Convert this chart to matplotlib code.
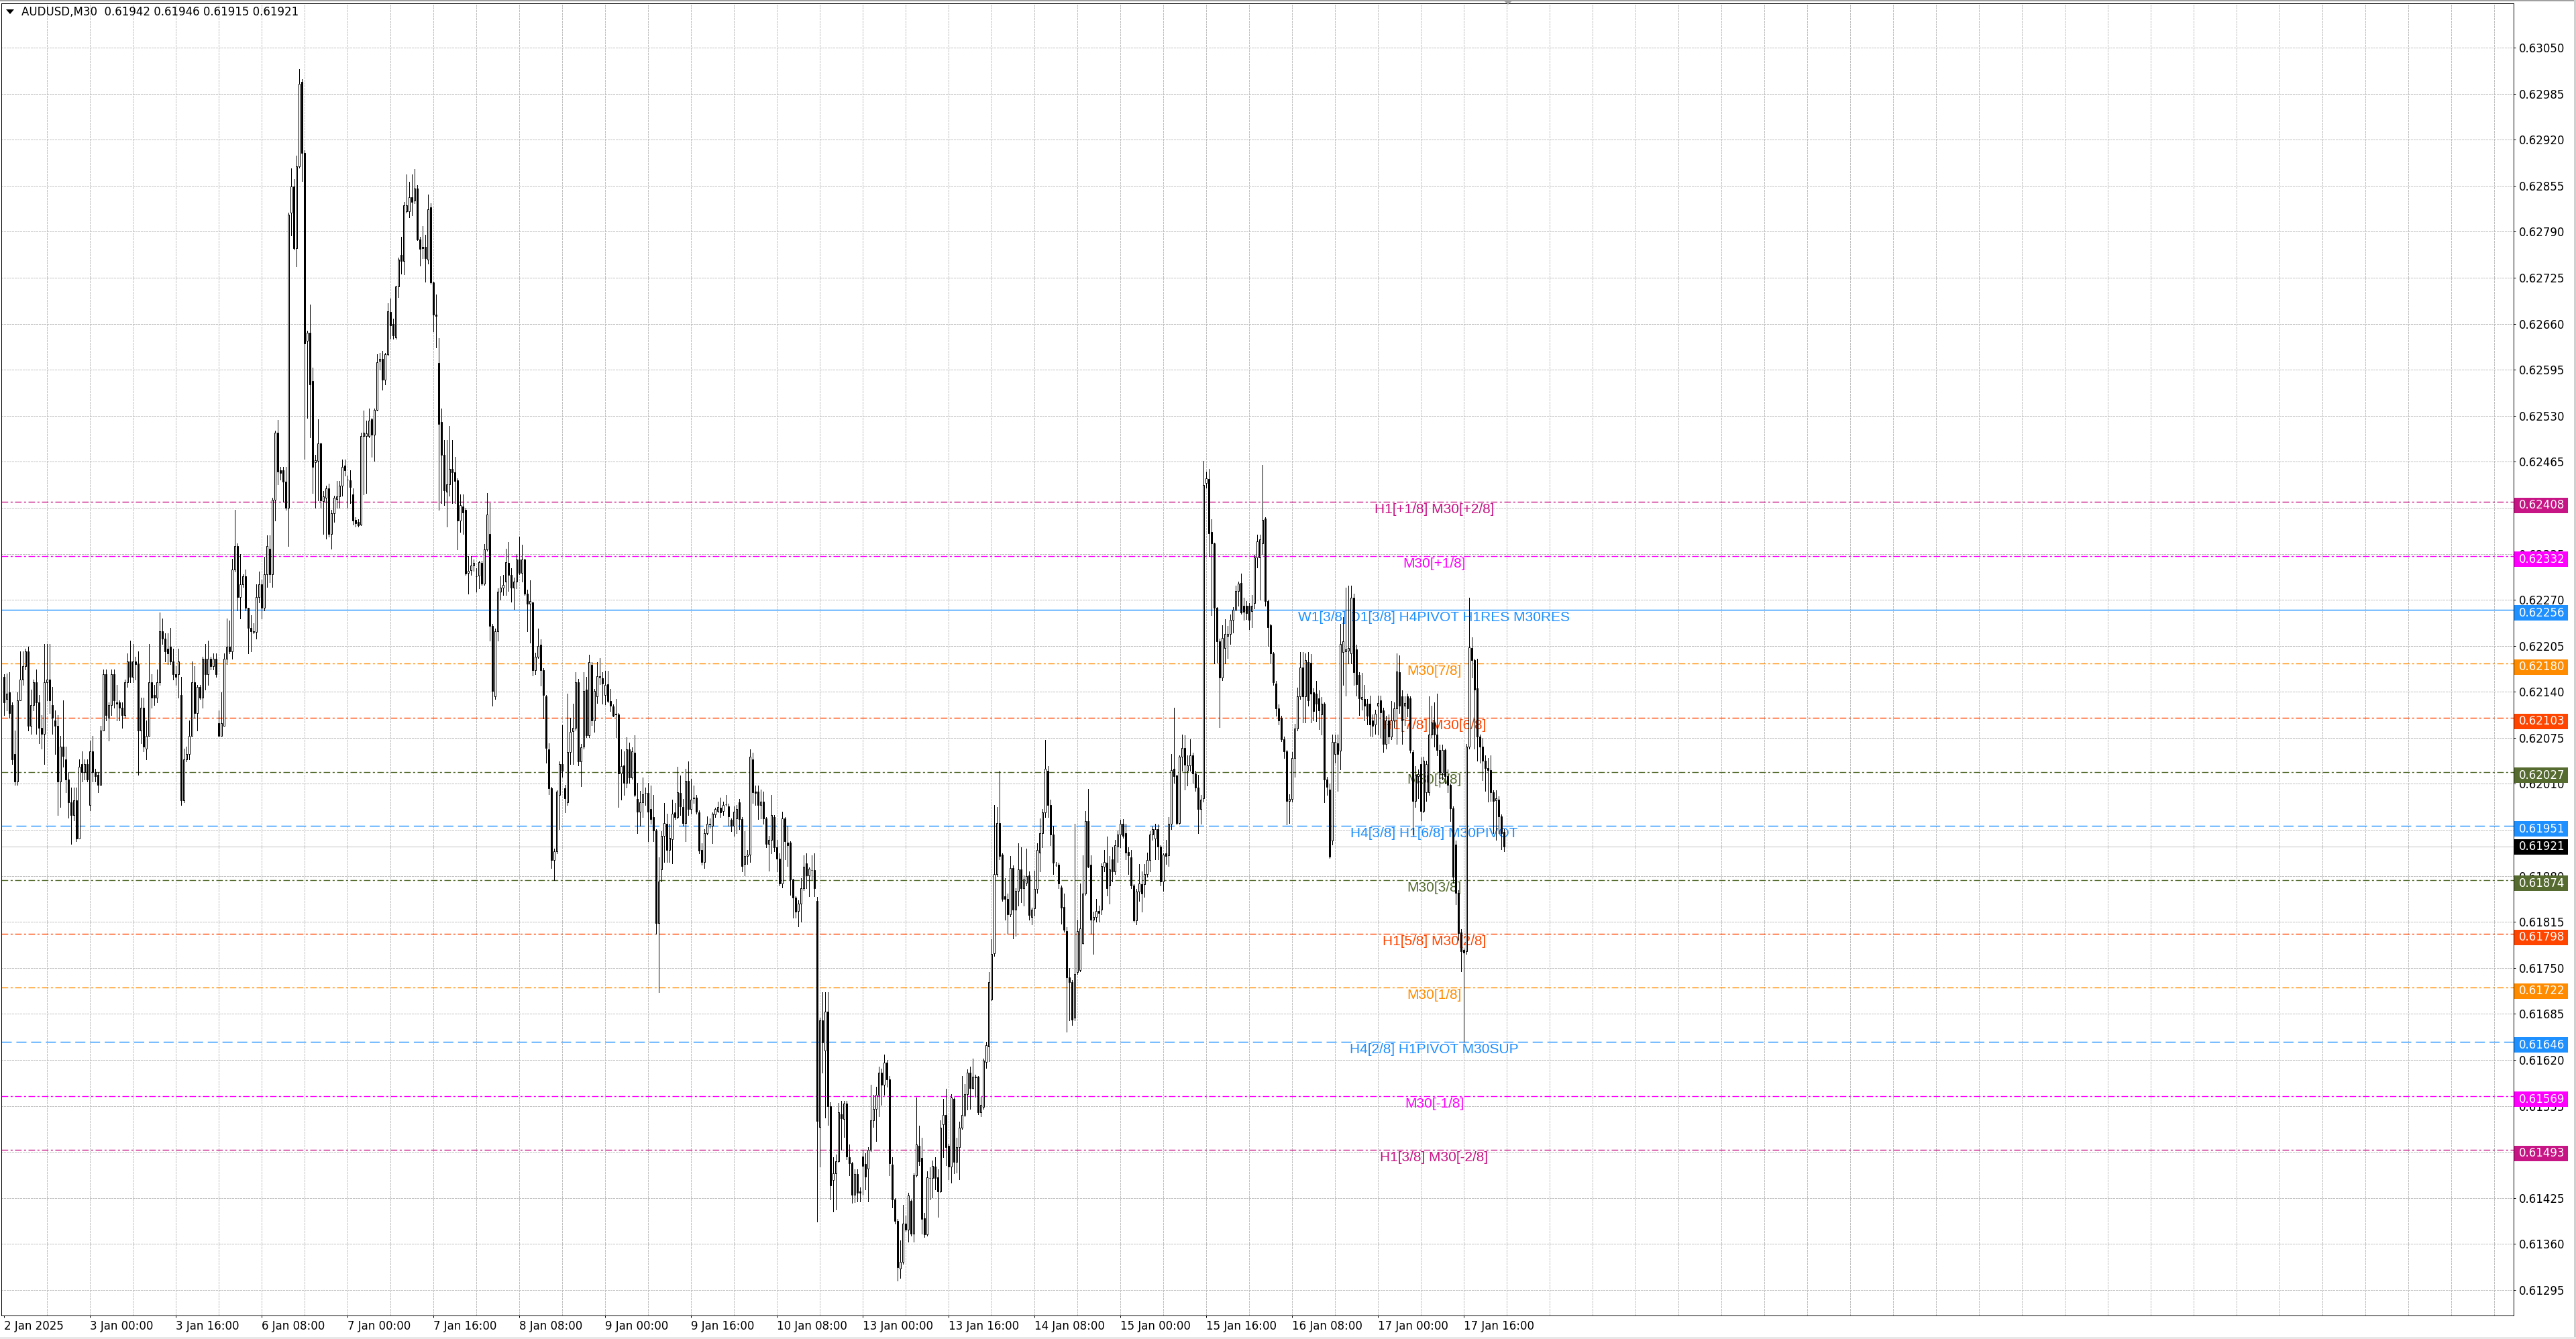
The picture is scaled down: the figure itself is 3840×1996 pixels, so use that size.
import matplotlib
matplotlib.use("Agg")
import matplotlib.pyplot as plt
import matplotlib.transforms as mtransforms
from matplotlib.patches import Rectangle, Polygon
import numpy as np

# ---- data (prices in points, 1 point = 0.00001) ----
title_text = "AUDUSD,M30  0.61942 0.61946 0.61915 0.61921"

opens = [
    62161, 62130, 62139, 62121, 62052, 62013, 62128, 62157, 62176, 62197, 62092, 62121, 62154, 62125, 62089, 62081, 62154, 62157, 62121, 62100,
    62092, 62013, 62063, 62045, 62016, 61984, 61966, 61987, 61933, 62038, 62027, 62038, 61980, 62056, 62027, 62023, 62009, 62085, 62165, 62103,
    62121, 62165, 62125, 62125, 62118, 62107, 62154, 62183, 62161, 62183, 62179, 62085, 62118, 62060, 62078, 62154, 62136, 62132, 62154, 62226,
    62215, 62201, 62204, 62183, 62165, 62165, 62136, 61987, 62045, 62052, 62078, 62154, 62110, 62147, 62132, 62187, 62165, 62187, 62176, 62187,
    62096, 62078, 62092, 62187, 62204, 62197, 62313, 62346, 62274, 62292, 62303, 62259, 62230, 62226, 62225, 62274, 62292, 62259, 62306, 62342,
    62306, 62411, 62506, 62453, 62453, 62437, 62400, 62817, 62854, 62767, 62882, 63002, 62901, 62636, 62647, 62579, 62464, 62466, 62491, 62409,
    62414, 62427, 62363, 62392, 62412, 62416, 62431, 62460, 62440, 62439, 62419, 62383, 62380, 62376, 62501, 62501, 62501, 62525, 62503, 62538,
    62607, 62610, 62581, 62617, 62677, 62660, 62641, 62713, 62757, 62749, 62819, 62819, 62839, 62834, 62851, 62779, 62769, 62769, 62751, 62824,
    62718, 62673, 62605, 62521, 62475, 62423, 62433, 62455, 62450, 62439, 62382, 62402, 62397, 62308, 62312, 62318, 62303, 62304, 62322, 62293,
    62341, 62363, 62233, 62134, 62226, 62281, 62287, 62296, 62322, 62305, 62287, 62296, 62327, 62308, 62327, 62279, 62264, 62266, 62171, 62190,
    62207, 62171, 62134, 62059, 62004, 61902, 61915, 61994, 62038, 62004, 61984, 62055, 62084, 62089, 62154, 62042, 62063, 62143, 62079, 62178,
    62100, 62134, 62160, 62159, 62136, 62151, 62127, 62119, 62109, 62108, 62025, 62036, 62011, 62059, 62019, 62054, 61989, 61971, 61984, 61997,
    61997, 61974, 61963, 61944, 61813, 61889, 61937, 61954, 61917, 61932, 61970, 61963, 61997, 61977, 61955, 62014, 61974, 61990, 61991, 61970,
    61917, 61900, 61940, 61953, 61951, 61967, 61972, 61976, 61972, 61981, 61978, 61959, 61951, 61961, 61984, 61960, 61897, 61908, 61910, 62045,
    61999, 61999, 61980, 61985, 61961, 61925, 61931, 61963, 61920, 61904, 61869, 61961, 61927, 61927, 61875, 61849, 61830, 61841, 61863, 61898,
    61881, 61888, 61888, 61845, 61525, 61676, 61633, 61688, 61555, 61450, 61460, 61477, 61543, 61537, 61558, 61483, 61474, 61430, 61459, 61434,
    61484, 61473, 61467, 61493, 61535, 61551, 61571, 61602, 61585, 61616, 61593, 61472, 61423, 61393, 61325, 61335, 61389, 61380, 61421, 61375,
    61457, 61499, 61482, 61396, 61374, 61453, 61453, 61469, 61454, 61434, 61529, 61542, 61499, 61469, 61565, 61476, 61497, 61524, 61542, 61572,
    61602, 61580, 61596, 61596, 61546, 61554, 61617, 61639, 61705, 61771, 61883, 61955, 61910, 61851, 61847, 61826, 61891, 61832, 61859, 61889,
    61863, 61870, 61881, 61822, 61834, 61862, 61913, 61940, 61970, 62028, 61980, 61938, 61896, 61896, 61864, 61836, 61802, 61737, 61730, 61680,
    61744, 61747, 61785, 61855, 61957, 61896, 61818, 61822, 61830, 61832, 61893, 61899, 61866, 61903, 61886, 61921, 61938, 61954, 61940, 61914,
    61906, 61866, 61817, 61858, 61868, 61868, 61883, 61902, 61938, 61933, 61946, 61921, 61872, 61912, 61909, 61954, 62031, 62022, 61955, 62048,
    62061, 62028, 62036, 62050, 62025, 62005, 61974, 61990, 62435, 62441, 62366, 62350, 62259, 62211, 62160, 62202, 62219, 62222, 62242, 62256,
    62282, 62294, 62262, 62262, 62262, 62254, 62265, 62330, 62330, 62350, 62385, 62268, 62234, 62194, 62152, 62117, 62103, 62073, 62056, 61986,
    61989, 62046, 62088, 62134, 62174, 62134, 62182, 62181, 62139, 62137, 62131, 62108, 62123, 62016, 62002, 61930, 62052, 62067, 62057, 62196,
    62197, 62198, 62194, 62273, 62200, 62164, 62130, 62130, 62123, 62123, 62100, 62094, 62120, 62128, 62114, 62066, 62100, 62077, 62100, 62117,
    62168, 62134, 62120, 62134, 62131, 62055, 61986, 62021, 62038, 61972, 61998, 61998, 62080, 62097, 62080, 62058, 62026, 62058, 62021, 62009,
    61975, 61924, 61856, 61800, 61775, 61774, 62063, 62202, 62185, 62145, 62077, 62063, 62043, 62032, 62029, 61998, 61987, 61988, 61964, 61942,
]

highs = [
    62165, 62166, 62168, 62125, 62085, 62139, 62197, 62197, 62201, 62204, 62143, 62157, 62172, 62136, 62107, 62208, 62208, 62208, 62147, 62114,
    62107, 62078, 62128, 62063, 62027, 62005, 62005, 62005, 62045, 62056, 62045, 62045, 62071, 62078, 62031, 62027, 62092, 62172, 62172, 62125,
    62172, 62172, 62150, 62128, 62125, 62157, 62194, 62212, 62208, 62190, 62197, 62132, 62132, 62100, 62208, 62165, 62150, 62172, 62252, 62244,
    62223, 62223, 62230, 62201, 62176, 62201, 62161, 62060, 62063, 62100, 62183, 62176, 62150, 62150, 62190, 62208, 62212, 62190, 62194, 62194,
    62114, 62139, 62194, 62244, 62241, 62328, 62397, 62350, 62335, 62306, 62313, 62259, 62248, 62237, 62292, 62310, 62299, 62331, 62361, 62361,
    62414, 62509, 62524, 62458, 62458, 62458, 62817, 62879, 62864, 62897, 63020, 63005, 62905, 62650, 62687, 62598, 62475, 62525, 62492, 62424,
    62431, 62434, 62397, 62417, 62438, 62438, 62468, 62468, 62445, 62453, 62427, 62387, 62384, 62506, 62537, 62523, 62540, 62527, 62540, 62617,
    62619, 62622, 62619, 62689, 62696, 62667, 62714, 62753, 62783, 62832, 62871, 62860, 62871, 62878, 62856, 62783, 62798, 62786, 62842, 62830,
    62719, 62701, 62640, 62540, 62496, 62496, 62516, 62496, 62472, 62442, 62419, 62419, 62400, 62332, 62332, 62327, 62315, 62325, 62325, 62349,
    62421, 62407, 62236, 62229, 62286, 62303, 62305, 62342, 62352, 62315, 62301, 62335, 62359, 62348, 62328, 62284, 62298, 62267, 62195, 62229,
    62214, 62173, 62136, 62067, 62006, 61919, 62001, 62042, 62093, 62009, 62137, 62103, 62123, 62168, 62158, 62066, 62168, 62161, 62192, 62182,
    62144, 62182, 62188, 62168, 62170, 62170, 62144, 62122, 62130, 62110, 62059, 62056, 62076, 62068, 62062, 62079, 62011, 62000, 62019, 62005,
    62011, 62008, 61994, 61946, 61906, 61943, 61983, 61968, 61954, 61988, 61983, 62034, 62022, 61989, 62031, 62042, 62017, 62008, 61994, 61973,
    61926, 61946, 61964, 61961, 61970, 61976, 61985, 61991, 61985, 61994, 61982, 61961, 61978, 61980, 61989, 61963, 61943, 61917, 62059, 62054,
    62008, 62008, 62002, 61999, 61963, 61937, 61994, 61966, 61931, 61912, 61971, 61963, 61951, 61929, 61876, 61851, 61846, 61877, 61909, 61912,
    61892, 61909, 61912, 61850, 61680, 61716, 61716, 61716, 61560, 61483, 61486, 61559, 61562, 61562, 61562, 61501, 61476, 61466, 61466, 61440,
    61493, 61488, 61497, 61585, 61571, 61582, 61611, 61608, 61628, 61620, 61597, 61483, 61425, 61395, 61365, 61415, 61400, 61432, 61423, 61460,
    61567, 61527, 61510, 61404, 61463, 61468, 61478, 61483, 61466, 61535, 61565, 61579, 61502, 61572, 61567, 61510, 61533, 61597, 61586, 61607,
    61611, 61622, 61599, 61597, 61568, 61622, 61646, 61744, 61791, 61980, 61977, 62028, 61912, 61877, 61855, 61908, 61895, 61863, 61926, 61920,
    61881, 61919, 61886, 61835, 61887, 61926, 61961, 61974, 62072, 62035, 61988, 61951, 61900, 61899, 61866, 61855, 61808, 61750, 61733, 61954,
    61818, 61869, 61909, 61972, 62003, 61909, 61829, 61847, 61838, 61898, 61917, 61936, 61908, 61920, 61931, 61944, 61959, 61960, 61954, 61920,
    61917, 61868, 61862, 61897, 61886, 61897, 61913, 61943, 61950, 61954, 61953, 61923, 61912, 61931, 61963, 62052, 62118, 62023, 62050, 62080,
    62079, 62050, 62073, 62054, 62028, 62023, 61994, 62466, 62451, 62455, 62384, 62351, 62260, 62215, 62234, 62243, 62233, 62249, 62260, 62290,
    62296, 62307, 62273, 62268, 62265, 62277, 62334, 62362, 62362, 62461, 62387, 62270, 62236, 62196, 62155, 62122, 62106, 62077, 62058, 61995,
    62055, 62095, 62146, 62196, 62196, 62194, 62196, 62193, 62145, 62155, 62142, 62133, 62125, 62020, 62010, 62080, 62080, 62080, 62236, 62245,
    62287, 62290, 62290, 62279, 62207, 62168, 62167, 62150, 62130, 62135, 62108, 62115, 62135, 62135, 62118, 62106, 62108, 62127, 62125, 62194,
    62191, 62142, 62134, 62137, 62134, 62058, 62035, 62030, 62047, 62048, 62043, 62134, 62120, 62125, 62137, 62065, 62065, 62060, 62030, 62010,
    61978, 61930, 61860, 61805, 61777, 62066, 62273, 62217, 62187, 62187, 62080, 62075, 62050, 62046, 62050, 62001, 62001, 61992, 61967, 61946,
]

lows = [
    62107, 62114, 62103, 62038, 62009, 62009, 62128, 62150, 62172, 62085, 62081, 62114, 62081, 62067, 62060, 62038, 62128, 62110, 62081, 62052,
    61966, 61977, 62034, 61998, 61962, 61925, 61958, 61929, 61933, 62013, 62016, 62013, 61973, 62013, 62013, 61998, 62009, 62085, 62100, 62071,
    62107, 62118, 62100, 62100, 62089, 62103, 62147, 62154, 62154, 62157, 62023, 62067, 62056, 62045, 62078, 62118, 62121, 62125, 62150, 62208,
    62183, 62179, 62179, 62157, 62150, 62132, 61980, 61984, 62042, 62045, 62078, 62103, 62085, 62130, 62118, 62143, 62150, 62172, 62172, 62161,
    62078, 62078, 62092, 62179, 62194, 62187, 62310, 62255, 62244, 62288, 62255, 62194, 62197, 62223, 62215, 62266, 62244, 62255, 62288, 62295,
    62288, 62382, 62433, 62440, 62408, 62397, 62346, 62785, 62765, 62741, 62880, 62861, 62469, 62527, 62499, 62421, 62400, 62410, 62400, 62363,
    62356, 62359, 62342, 62380, 62400, 62400, 62417, 62445, 62400, 62407, 62376, 62373, 62373, 62375, 62419, 62421, 62499, 62472, 62466, 62537,
    62595, 62567, 62574, 62615, 62639, 62639, 62639, 62697, 62731, 62730, 62817, 62810, 62813, 62830, 62778, 62742, 62752, 62719, 62745, 62716,
    62649, 62626, 62397, 62407, 62404, 62373, 62417, 62407, 62407, 62341, 62366, 62363, 62305, 62279, 62305, 62311, 62281, 62286, 62291, 62291,
    62339, 62212, 62120, 62130, 62212, 62270, 62277, 62277, 62282, 62267, 62257, 62286, 62306, 62296, 62277, 62226, 62209, 62163, 62165, 62188,
    62149, 62102, 62040, 61995, 61891, 61874, 61912, 61946, 62020, 61970, 61980, 62038, 62038, 62086, 62036, 62007, 62060, 62076, 62076, 62093,
    62083, 62124, 62151, 62123, 62122, 62125, 62113, 62105, 62076, 61977, 61988, 61994, 62005, 62011, 62017, 61992, 61940, 61951, 61963, 61980,
    61929, 61954, 61929, 61798, 61716, 61872, 61900, 61900, 61900, 61898, 61960, 61961, 61966, 61951, 61929, 61966, 61968, 61983, 61968, 61912,
    61896, 61891, 61938, 61948, 61926, 61963, 61970, 61963, 61966, 61979, 61951, 61943, 61937, 61940, 61946, 61886, 61881, 61897, 61900, 61983,
    61980, 61960, 61961, 61954, 61920, 61887, 61912, 61915, 61886, 61866, 61864, 61903, 61894, 61853, 61821, 61821, 61809, 61815, 61860, 61863,
    61851, 61875, 61851, 61392, 61469, 61602, 61539, 61528, 61423, 61406, 61409, 61476, 61493, 61511, 61480, 61457, 61418, 61419, 61420, 61420,
    61430, 61437, 61420, 61491, 61525, 61505, 61540, 61557, 61571, 61582, 61457, 61412, 61389, 61308, 61312, 61332, 61378, 61363, 61372, 61363,
    61455, 61471, 61375, 61370, 61372, 61423, 61426, 61437, 61398, 61433, 61483, 61471, 61451, 61447, 61460, 61461, 61451, 61522, 61540, 61550,
    61551, 61579, 61568, 61543, 61540, 61551, 61609, 61618, 61704, 61767, 61880, 61903, 61845, 61818, 61798, 61823, 61792, 61795, 61838, 61843,
    61838, 61866, 61818, 61811, 61824, 61856, 61886, 61920, 61963, 61963, 61923, 61883, 61894, 61863, 61812, 61801, 61660, 61676, 61669, 61676,
    61741, 61745, 61784, 61853, 61892, 61798, 61770, 61815, 61815, 61826, 61886, 61852, 61841, 61872, 61883, 61900, 61920, 61934, 61903, 61883,
    61863, 61815, 61811, 61845, 61829, 61850, 61879, 61886, 61931, 61903, 61903, 61866, 61859, 61897, 61894, 61946, 62011, 61953, 61954, 62028,
    62002, 62008, 62028, 62011, 62000, 61940, 61954, 61985, 62428, 62332, 62248, 62180, 62181, 62090, 62156, 62180, 62188, 62208, 62224, 62255,
    62262, 62250, 62242, 62243, 62228, 62231, 62258, 62316, 62270, 62335, 62262, 62205, 62180, 62150, 62106, 62094, 62070, 62046, 61953, 61955,
    61985, 62020, 62085, 62130, 62097, 62097, 62120, 62097, 62100, 62099, 62087, 62080, 61984, 61994, 61905, 61924, 62040, 62000, 62030, 62150,
    62135, 62180, 62180, 62150, 62135, 62107, 62115, 62100, 62094, 62078, 62077, 62081, 62080, 62075, 62055, 62060, 62067, 62073, 62090, 62066,
    62110, 62066, 62093, 62105, 62054, 61938, 61977, 61990, 61958, 61970, 61986, 61994, 62075, 62063, 62050, 62006, 62016, 62010, 61998, 61957,
    61870, 61840, 61790, 61745, 61646, 61770, 62060, 62160, 62060, 62043, 62040, 62015, 62000, 61985, 61986, 61940, 61931, 61940, 61918, 61915,
]

closes = [
    62125, 62137, 62110, 62045, 62013, 62128, 62157, 62176, 62197, 62092, 62121, 62154, 62125, 62089, 62081, 62154, 62157, 62128, 62103, 62092,
    62013, 62063, 62049, 62016, 61984, 61966, 61987, 61933, 62034, 62027, 62038, 62016, 62056, 62027, 62021, 62009, 62085, 62165, 62107, 62121,
    62165, 62128, 62123, 62118, 62107, 62154, 62183, 62161, 62183, 62179, 62085, 62118, 62063, 62078, 62154, 62132, 62132, 62154, 62226, 62215,
    62197, 62194, 62183, 62165, 62161, 62183, 61987, 62045, 62052, 62078, 62154, 62110, 62147, 62132, 62187, 62165, 62187, 62176, 62187, 62165,
    62078, 62096, 62187, 62204, 62197, 62313, 62346, 62274, 62292, 62303, 62259, 62230, 62226, 62225, 62274, 62292, 62259, 62306, 62346, 62306,
    62411, 62506, 62451, 62449, 62437, 62400, 62814, 62854, 62767, 62882, 62999, 62901, 62632, 62647, 62574, 62458, 62467, 62491, 62410, 62416,
    62427, 62363, 62392, 62414, 62416, 62431, 62458, 62453, 62440, 62429, 62382, 62378, 62375, 62501, 62506, 62505, 62523, 62503, 62538, 62606,
    62610, 62581, 62617, 62678, 62658, 62643, 62713, 62751, 62749, 62827, 62827, 62839, 62832, 62851, 62779, 62766, 62767, 62752, 62822, 62718,
    62673, 62671, 62518, 62475, 62425, 62433, 62455, 62450, 62438, 62382, 62404, 62393, 62307, 62311, 62318, 62322, 62303, 62323, 62293, 62341,
    62390, 62233, 62141, 62226, 62281, 62287, 62291, 62323, 62305, 62287, 62296, 62327, 62308, 62327, 62279, 62264, 62268, 62171, 62190, 62205,
    62171, 62136, 62061, 62004, 61902, 61915, 61999, 62038, 62028, 61990, 62055, 62083, 62089, 62154, 62042, 62062, 62141, 62079, 62182, 62100,
    62141, 62162, 62162, 62152, 62150, 62127, 62120, 62106, 62108, 62025, 62035, 62011, 62059, 62019, 62056, 61994, 61971, 61984, 61995, 61997,
    61971, 61960, 61944, 61813, 61872, 61937, 61955, 61917, 61934, 61968, 61963, 61998, 61978, 61955, 62014, 61974, 61988, 61991, 61971, 61916,
    61900, 61940, 61954, 61954, 61968, 61974, 61977, 61970, 61980, 61981, 61964, 61951, 61971, 61974, 61960, 61894, 61908, 61910, 62048, 61998,
    61997, 61980, 61985, 61961, 61925, 61931, 61966, 61920, 61904, 61869, 61961, 61929, 61923, 61875, 61849, 61829, 61841, 61863, 61893, 61881,
    61890, 61888, 61863, 61534, 61676, 61645, 61688, 61555, 61443, 61460, 61477, 61546, 61538, 61558, 61484, 61474, 61430, 61459, 61432, 61432,
    61470, 61455, 61493, 61535, 61551, 61571, 61602, 61585, 61616, 61593, 61474, 61423, 61393, 61327, 61335, 61389, 61380, 61429, 61375, 61457,
    61501, 61477, 61395, 61374, 61454, 61453, 61470, 61453, 61434, 61524, 61542, 61497, 61469, 61567, 61476, 61497, 61524, 61542, 61572, 61602,
    61580, 61596, 61595, 61546, 61557, 61619, 61641, 61730, 61770, 61883, 61955, 61908, 61847, 61847, 61826, 61891, 61832, 61859, 61889, 61863,
    61875, 61880, 61825, 61832, 61862, 61917, 61940, 61970, 62031, 61980, 61938, 61899, 61896, 61869, 61835, 61804, 61737, 61730, 61677, 61741,
    61802, 61806, 61855, 61957, 61893, 61818, 61822, 61830, 61828, 61894, 61900, 61863, 61889, 61886, 61923, 61938, 61954, 61937, 61913, 61909,
    61866, 61817, 61858, 61869, 61855, 61883, 61902, 61938, 61946, 61946, 61921, 61872, 61910, 61908, 61954, 62029, 62021, 61955, 62048, 62061,
    62037, 62036, 62050, 62025, 62005, 61974, 61988, 62432, 62442, 62364, 62350, 62259, 62211, 62160, 62216, 62222, 62222, 62242, 62256, 62282,
    62293, 62252, 62253, 62251, 62242, 62262, 62330, 62353, 62355, 62383, 62268, 62231, 62194, 62154, 62117, 62100, 62073, 62056, 61986, 61989,
    62046, 62088, 62134, 62174, 62134, 62185, 62128, 62137, 62113, 62123, 62114, 62123, 62016, 62006, 61907, 62069, 62069, 62052, 62208, 62211,
    62200, 62202, 62273, 62168, 62151, 62131, 62133, 62120, 62106, 62094, 62092, 62109, 62124, 62111, 62066, 62100, 62077, 62100, 62117, 62169,
    62120, 62100, 62124, 62117, 62058, 61986, 62023, 62024, 61972, 62043, 62038, 62080, 62097, 62080, 62058, 62026, 62058, 62021, 62009, 61975,
    61879, 61856, 61799, 61774, 61772, 62063, 62203, 62185, 62143, 62077, 62063, 62043, 62032, 62029, 61998, 61986, 61990, 61964, 61940, 61921,
]

date_labels = ["2 Jan 2025", "3 Jan 00:00", "3 Jan 16:00", "6 Jan 08:00", "7 Jan 00:00",
               "7 Jan 16:00", "8 Jan 08:00", "9 Jan 00:00", "9 Jan 16:00", "10 Jan 08:00",
               "13 Jan 00:00", "13 Jan 16:00", "14 Jan 08:00", "15 Jan 00:00", "15 Jan 16:00",
               "16 Jan 08:00", "17 Jan 00:00", "17 Jan 16:00"]

level_prices = [0.62408, 0.62332, 0.62256, 0.62180, 0.62103, 0.62027, 0.61951,
                0.61874, 0.61798, 0.61722, 0.61646, 0.61569, 0.61493]
level_names = ["H1[+1/8] M30[+2/8]", "M30[+1/8]", "W1[3/8] D1[3/8] H4PIVOT H1RES M30RES",
               "M30[7/8]", "H1[7/8] M30[6/8]", "M30[5/8]", "H4[3/8] H1[6/8] M30PIVOT",
               "M30[3/8]", "H1[5/8] M30[2/8]", "M30[1/8]", "H4[2/8] H1PIVOT M30SUP",
               "M30[-1/8]", "H1[3/8] M30[-2/8]"]
level_colors = ["#C71585", "#FF00FF", "#1E90FF", "#FF8C00", "#FF4500", "#556B2F", "#1E90FF",
                "#556B2F", "#FF4500", "#FF8C00", "#1E90FF", "#FF00FF", "#C71585"]
level_kinds = ["dashdot", "dashdot", "solid", "dashdot", "dashdot", "dashdot", "dashed",
               "dashdot", "dashdot", "dashdot", "dashed", "dashdot", "dashdot"]
last_price = 0.61921

# ---- figure ----
W, H = 3840, 1996
PX = 0.72  # one pixel in points at dpi 100
YMIN, YMAX = 0.61259, 0.63113
AX_H = 1956.5
fig = plt.figure(figsize=(W / 100, H / 100), dpi=100)
fig.patch.set_facecolor("white")

ax = fig.add_axes([2 / W, 35 / H, 3745 / W, AX_H / H])
ax.set_xlim(-1, 935.25)
ax.set_ylim(YMIN, YMAX)
ax.set_facecolor("white")
for sp in ax.spines.values():
    sp.set_color("black")
    sp.set_linewidth(PX)

grid_color = "#C0C0C0"
grid_dash = (0, (2.2, 1.5))
price_ticks = np.round(0.61295 + 0.00065 * np.arange(28), 5)
ax.set_yticks(price_ticks)
ax.set_yticklabels([f"{t:.5f}" for t in price_ticks])
ax.hlines(price_ticks, -1, 935.25, colors=grid_color, linestyles=grid_dash,
          linewidth=PX, zorder=0.5, antialiased=False)
ax.vlines(np.arange(16, 936, 16), YMIN, YMAX, colors=grid_color,
          linestyles=grid_dash, linewidth=PX, zorder=0.5, antialiased=False)

ax.yaxis.tick_right()
ax.tick_params(axis="y", direction="out", length=3 * PX, width=PX, pad=5 * PX,
               labelsize=12, colors="black")
ax.set_xticks(np.arange(len(date_labels)) * 32)
ax.set_xticklabels(date_labels)
ax.tick_params(axis="x", direction="out", length=3 * PX, width=PX, pad=4 * PX,
               labelsize=12, colors="black")
for lbl in ax.get_xticklabels():
    lbl.set_ha("left")

# levels
dash_styles = {"dashdot": (0, (7.0, 2.6, 2.2, 2.6)), "dashed": (0, (10.8, 5.0)), "solid": "-"}
ax.axhline(last_price, color="#C0C0C0", linewidth=PX, zorder=1.5)
for p, name, col, kind in zip(level_prices, level_names, level_colors, level_kinds):
    ax.axhline(p, color=col, linewidth=1.0, linestyle=dash_styles[kind], zorder=1.6)
    ax.annotate(name, xy=(533, p), xytext=(0, -2), textcoords="offset pixels",
                ha="center", va="top", color=col, fontsize=15,
                family="Liberation Sans", zorder=2)

# candles
o = np.array(opens) / 1e5
h = np.array(highs) / 1e5
l = np.array(lows) / 1e5
c = np.array(closes) / 1e5
idx = np.arange(len(o))
ax.vlines(idx, l, h, colors="black", linewidth=PX, zorder=3, antialiased=False)
up = c >= o
ax.bar(idx[up], c[up] - o[up], bottom=o[up], width=0.55, facecolor="white",
       edgecolor="black", linewidth=PX, zorder=4)
ax.bar(idx[~up], o[~up] - c[~up], bottom=c[~up], width=0.55, facecolor="black",
       edgecolor="black", linewidth=PX, zorder=4)

# price tags on the right scale (level tags sit a few pixels below their line)
tag_tr = mtransforms.blended_transform_factory(fig.transFigure, ax.transData)
per_px = (YMAX - YMIN) / AX_H
half_h = 11.5 * per_px
tags = [(p, col, 5) for p, col in zip(level_prices, level_colors)] + [(last_price, "black", 0)]
for p, col, shift in tags:
    yc = p - shift * per_px
    ax.add_patch(Rectangle((3748 / W, yc - half_h), 80 / W, 2 * half_h, transform=tag_tr,
                           facecolor=col, edgecolor="none", clip_on=False, zorder=10))
    ax.text(3755 / W, yc, f"{p:.5f}", transform=tag_tr, ha="left", va="center",
            color="white", fontsize=12, zorder=11, clip_on=False)

# title and window decorations
fig.text(32 / W, 1 - 9 / H, title_text, ha="left", va="top", fontsize=12, color="black")
fig.patches.append(Polygon([(9 / W, 1 - 14 / H), (21 / W, 1 - 14 / H), (15 / W, 1 - 21 / H)],
                           closed=True, transform=fig.transFigure, facecolor="black",
                           edgecolor="none"))
fig.patches.append(Polygon([(2241 / W, 1 - 0.5 / H), (2255 / W, 1 - 0.5 / H), (2248 / W, 1 - 7 / H)],
                           closed=True, transform=fig.transFigure, facecolor="#A0A0A0",
                           edgecolor="none"))
fig.patches.append(Rectangle((0, 1 - 2 / H), 1, 2 / H, transform=fig.transFigure,
                             facecolor="#A0A0A0", edgecolor="none"))
fig.patches.append(Rectangle((3837 / W, 0), 3 / W, 1, transform=fig.transFigure,
                             facecolor="#D0D0D0", edgecolor="none"))
fig.patches.append(Rectangle((0, 0), 1, 3 / H, transform=fig.transFigure,
                             facecolor="#E8E8E8", edgecolor="none"))

fig.savefig("out.png", dpi=100)
